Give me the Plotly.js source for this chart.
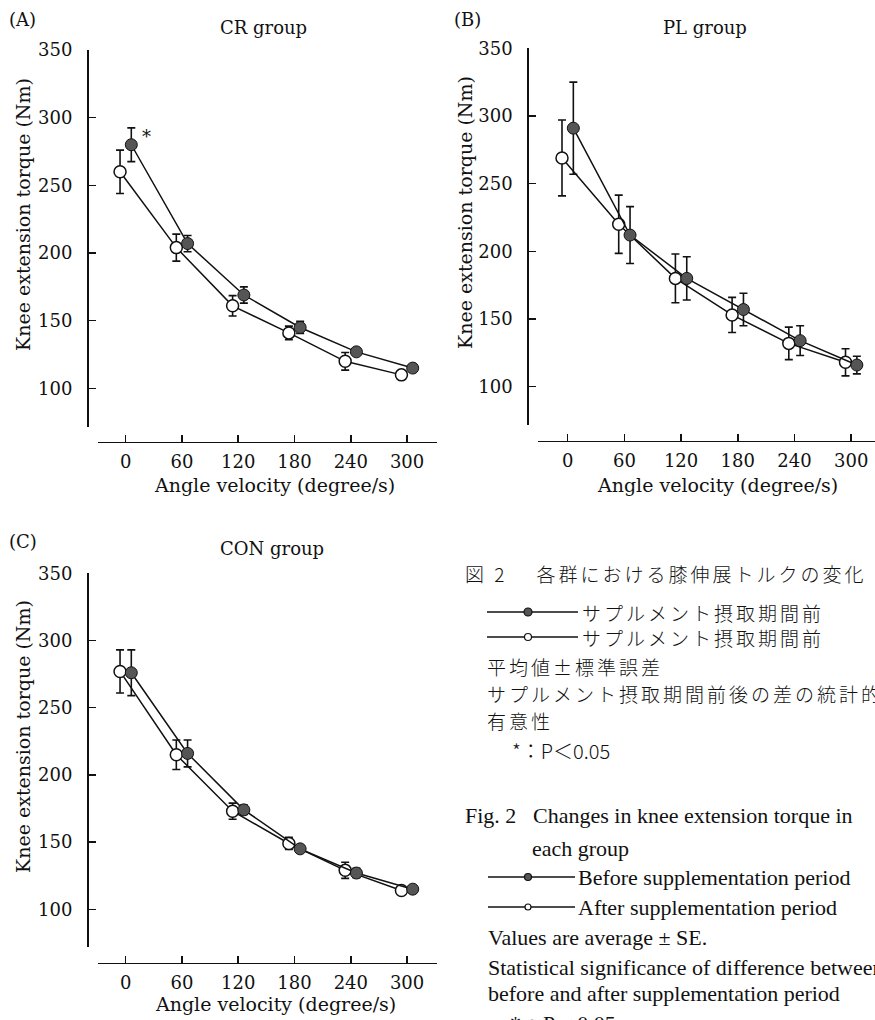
<!DOCTYPE html>
<html><head><meta charset="utf-8">
<script src="https://cdn.plot.ly/plotly-3.0.1.min.js"></script>
<style>html,body{margin:0;padding:0;overflow:hidden;background:#fff}#chart{width:875px;height:1020px}</style>
</head><body><div id="chart"></div>
<script>
// ---- data ----
const velocities = [0, 60, 120, 180, 240, 300];
const yTicks = [100, 150, 200, 250, 300, 350];

const crBefore   = [280, 207, 169, 145, 127, 115];
const crBeforeSE = [12.5, 6, 6, 4.5, 2, 2];
const crAfter    = [260, 204, 161, 141, 120, 110];
const crAfterSE  = [16, 10, 7.5, 5, 6.5, 1.5];

const plBefore   = [291, 212, 180, 157, 134, 116];
const plBeforeSE = [34, 21, 16, 12, 11, 6.5];
const plAfter    = [269, 220, 180, 153, 132, 118];
const plAfterSE  = [28, 21.5, 18, 13, 12, 10];

const conBefore   = [276, 216, 174, 145, 127, 115];
const conBeforeSE = [17, 10, 3.5, 2, 3.5, 1.5];
const conAfter    = [277, 215, 173, 149, 129, 114];
const conAfterSE  = [16, 11, 6, 4.5, 6, 1.5];

const panelLetters = ['(A)', '(B)', '(C)'];
const panelTitles = ['CR group', 'PL group', 'CON group'];
const yTitle = 'Knee extension torque (Nm)';
const xTitle = 'Angle velocity (degree/s)';

const jpLines = ['図 2　 各群における膝伸展トルクの変化', 'サプルメント摂取期間前', 'サプルメント摂取期間前',
  '平均値±標準誤差', 'サプルメント摂取期間前後の差の統計的', '有意性', '*：P＜0.05'];
const enLines = ['Fig. 2', 'Changes in knee extension torque in', 'each group', 'Before supplementation period',
  'After supplementation period', 'Values are average ± SE.', 'Statistical significance of difference between',
  'before and after supplementation period', '*：P＜0.05'];

// ---- layout helpers ----
const W = 875, H = 1020;
const px = x => x / W, py = y => 1 - y / H;
const serif = 'DejaVu Serif, serif';
const ink = '#111';
const dodgeBefore = 6, dodgeAfter = -6;

function pair(before, beforeSE, after, afterSE, xa, ya) {
  const common = {mode: 'lines+markers', xaxis: xa, yaxis: ya, cliponaxis: false, hoverinfo: 'skip',
    line: {color: ink, width: 1.5}};
  return [
    Object.assign({}, common, {
      x: velocities.map(v => v + dodgeAfter), y: after,
      error_y: {type: 'data', array: afterSE, visible: true, color: ink, thickness: 1.6, width: 4},
      marker: {size: 12, color: '#fff', line: {color: ink, width: 1.5}}
    }),
    Object.assign({}, common, {
      x: velocities.map(v => v + dodgeBefore), y: before,
      error_y: {type: 'data', array: beforeSE, visible: true, color: ink, thickness: 1.6, width: 4},
      marker: {size: 12, color: '#555', line: {color: ink, width: 1}}
    })
  ];
}

const data = [].concat(
  pair(crBefore, crBeforeSE, crAfter, crAfterSE, 'x', 'y'),
  pair(plBefore, plBeforeSE, plAfter, plAfterSE, 'x2', 'y2'),
  pair(conBefore, conBeforeSE, conAfter, conAfterSE, 'x3', 'y3')
);

const tickFont = {family: serif, size: 18, color: ink};
function xax(domain, range, pos) {
  return {domain: domain, range: range, anchor: 'free', position: pos, showline: true, linecolor: ink, linewidth: 1.5,
    ticks: 'inside', ticklen: 7, tickwidth: 1.5, tickcolor: ink, tickvals: velocities, tickfont: tickFont,
    ticklabelstandoff: 3, showgrid: false, zeroline: false, fixedrange: true};
}
function yax(domain, range, pos) {
  return {domain: domain, range: range, anchor: 'free', position: pos, showline: true, linecolor: ink, linewidth: 1.5,
    ticks: 'inside', ticklen: 7, tickwidth: 1.5, tickcolor: ink, tickvals: yTicks, tickfont: tickFont,
    ticklabelstandoff: 11, showgrid: false, zeroline: false, fixedrange: true};
}

const annotations = [];
function txt(text, x, y, opts) {
  annotations.push(Object.assign({text: text, x: px(x), y: py(y), xref: 'paper', yref: 'paper',
    showarrow: false, xanchor: 'center', yanchor: 'middle', font: {family: serif, size: 18, color: ink}}, opts || {}));
}
// panel letters and titles
txt(panelLetters[0], 22, 19, {font: {family: serif, size: 18, color: ink}});
txt(panelLetters[1], 467, 19, {font: {family: serif, size: 18, color: ink}});
txt(panelLetters[2], 23, 541, {font: {family: serif, size: 18, color: ink}});
txt(panelTitles[0], 263, 27, {font: {family: serif, size: 18, color: ink}});
txt(panelTitles[1], 705, 27, {font: {family: serif, size: 18, color: ink}});
txt(panelTitles[2], 272, 548, {font: {family: serif, size: 18, color: ink}});
// axis titles
txt(yTitle, 23, 215, {textangle: -90, font: {family: serif, size: 19, color: ink}});
txt(yTitle, 465, 213, {textangle: -90, font: {family: serif, size: 19, color: ink}});
txt(yTitle, 23, 737, {textangle: -90, font: {family: serif, size: 19, color: ink}});
txt(xTitle, 274, 485, {font: {family: serif, size: 19, color: ink}});
txt(xTitle, 717, 485, {font: {family: serif, size: 19, color: ink}});
txt(xTitle, 275, 1004, {font: {family: serif, size: 19, color: ink}});
// significance mark
annotations.push({text: '*', x: velocities[0] + dodgeBefore, y: crBefore[0], xref: 'x', yref: 'y', xshift: 15, yshift: 8,
  showarrow: false, font: {family: serif, size: 18, color: ink}});

// Japanese caption
const jp = {family: 'Noto Sans CJK JP, sans-serif', size: 19, color: ink, weight: 300};
const sp = s => '<span style="letter-spacing:3px">' + s + '</span>';
txt(sp(jpLines[0]), 463, 573, {xanchor: 'left', font: jp});
txt(sp(jpLines[1]), 580, 612, {xanchor: 'left', font: jp});
txt(sp(jpLines[2]), 580, 637, {xanchor: 'left', font: jp});
txt(sp(jpLines[3]), 485, 666, {xanchor: 'left', font: jp});
txt(sp(jpLines[4]), 485, 693, {xanchor: 'left', font: jp});
txt(sp(jpLines[5]), 485, 720, {xanchor: 'left', font: jp});
txt(jpLines[6], 510, 750, {xanchor: 'left', font: {family: jp.family, size: 20, color: ink, weight: 300}});

// English caption
const en = {family: 'Liberation Serif, Times New Roman, serif', size: 22, color: ink};
txt(enLines[0], 463, 815, {xanchor: 'left', font: en});
txt(enLines[1], 531, 815, {xanchor: 'left', font: en});
txt(enLines[2], 530, 848, {xanchor: 'left', font: en});
txt(enLines[3], 576, 877, {xanchor: 'left', font: en});
txt(enLines[4], 576, 907, {xanchor: 'left', font: en});
txt(enLines[5], 486, 937, {xanchor: 'left', font: en});
txt(enLines[6], 486, 967, {xanchor: 'left', font: en});
txt(enLines[7], 486, 993, {xanchor: 'left', font: en});
txt(enLines[8], 508, 1023, {xanchor: 'left', font: en});

// legend keys (drawn as shapes in paper coordinates)
const shapes = [];
function key(x0, x1, y, cx, d, filled) {
  shapes.push({type: 'line', xref: 'paper', yref: 'paper', x0: px(x0), x1: px(x1), y0: py(y), y1: py(y),
    line: {color: ink, width: 1.3}});
  shapes.push({type: 'circle', xref: 'paper', yref: 'paper', x0: px(cx - d / 2), x1: px(cx + d / 2),
    y0: py(y + d / 2), y1: py(y - d / 2), fillcolor: filled ? '#555' : '#fff', line: {color: ink, width: 1.2}});
}
key(487, 578, 612, 528, 8, true);
key(487, 578, 637, 528, 7, false);
key(488, 575, 877, 528, 7, true);
key(488, 575, 907, 528, 6, false);

const layout = {
  width: W, height: H, margin: {l: 0, r: 0, t: 0, b: 0}, paper_bgcolor: '#fff', plot_bgcolor: 'rgba(0,0,0,0)',
  showlegend: false,
  xaxis: xax([px(98), px(437)], [-29.5, 331.9], py(441.7)),
  yaxis: yax([py(426.7), py(50)], [71.7, 350], px(87)),
  xaxis2: xax([px(538), 1], [-31.4, 325.2], py(440.7)),
  yaxis2: yax([py(425), py(48.3)], [71.7, 350], px(527.3)),
  xaxis3: xax([px(98), px(437)], [-29.5, 331.9], py(962.7)),
  yaxis3: yax([py(946.7), py(573.3)], [72.2, 350], px(87)),
  annotations: annotations,
  shapes: shapes
};

Plotly.newPlot('chart', data, layout, {displayModeBar: false, staticPlot: true});
</script></body></html>
